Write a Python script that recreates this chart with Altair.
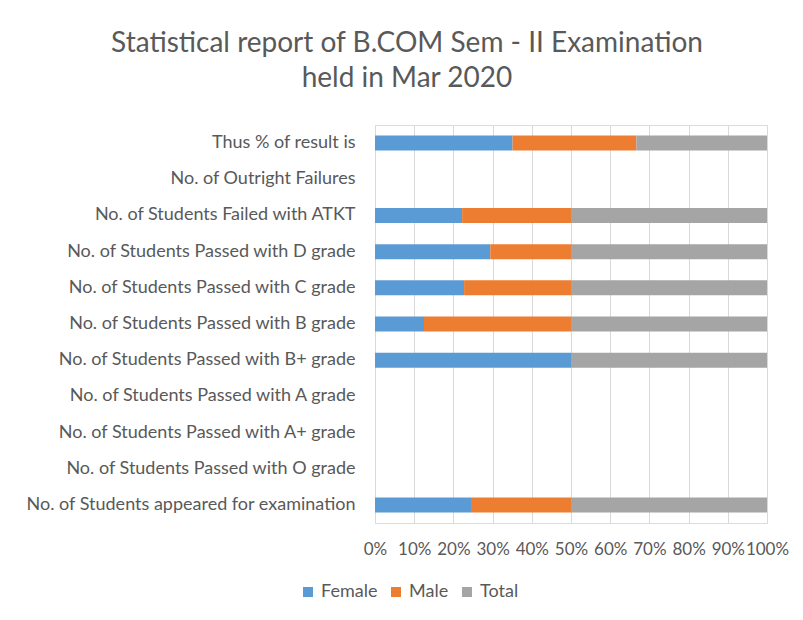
import altair as alt
import pandas as pd

categories = [
    "Thus % of result is",
    "No. of Outright Failures",
    "No. of Students Failed with ATKT",
    "No. of Students Passed with D grade",
    "No. of Students Passed with C grade",
    "No. of Students Passed with B grade",
    "No. of Students Passed with B+ grade",
    "No. of Students Passed with A grade",
    "No. of Students Passed with A+ grade",
    "No. of Students Passed with  O grade",
    "No. of Students appeared for examination",
]
female = [100, 0, 4, 10, 5, 1, 1, 0, 0, 0, 24]
male = [90, 0, 5, 7, 6, 3, 0, 0, 0, 0, 25]
total = [95, 0, 9, 17, 11, 4, 1, 0, 0, 0, 49]
series = ["Female", "Male", "Total"]
colors = ["#5B9BD5", "#ED7D31", "#A5A5A5"]

rows = []
for i, c in enumerate(categories):
    for j, (s, vals) in enumerate(zip(series, [female, male, total])):
        if vals[i] > 0:
            rows.append({"category": c, "series": s, "order": j, "value": vals[i]})
df = pd.DataFrame(rows)

font = "Lato"
grey = "#595959"

chart = alt.Chart(df).mark_bar(size=15).encode(
    x=alt.X("value:Q", stack="normalize",
            scale=alt.Scale(domain=[0, 1], nice=False),
            axis=alt.Axis(format=".0%", values=[i / 10 for i in range(11)],
                          title=None, grid=True, gridColor="#D9D9D9",
                          domain=False, ticks=False, labelOverlap=False,
                          labelFontSize=17, labelColor=grey, labelFont=font,
                          labelPadding=18, labelFlush=False)),
    y=alt.Y("category:N", scale=alt.Scale(domain=categories, paddingInner=0.58, paddingOuter=0.29),
            axis=alt.Axis(title=None, domain=False, ticks=False, labelFontSize=18,
                          labelColor=grey, labelFont=font, labelPadding=20, labelLimit=400)),
    color=alt.Color("series:N", scale=alt.Scale(domain=series, range=colors),
                    legend=alt.Legend(title=None, orient="none", legendX=-76, legendY=458,
                                      direction="horizontal",
                                      symbolType="square", symbolSize=100, labelFontSize=18,
                                      labelColor=grey, labelFont=font, columnPadding=9,
                                      symbolStrokeWidth=0)),
    order=alt.Order("order:Q"),
).properties(
    width=392,
    height=398,
    title=alt.TitleParams(["Statistical report of B.COM Sem - II Examination", "held in Mar 2020"],
                          fontSize=28, font=font, color=grey, fontWeight="normal",
                          anchor="middle", lineHeight=35, offset=32, frame="bounds"),
).configure_view(stroke=None).configure(padding={"left": 17, "top": 22, "right": 5, "bottom": 5})

chart.save("out.html", embed_options={"renderer": "svg", "actions": False})
